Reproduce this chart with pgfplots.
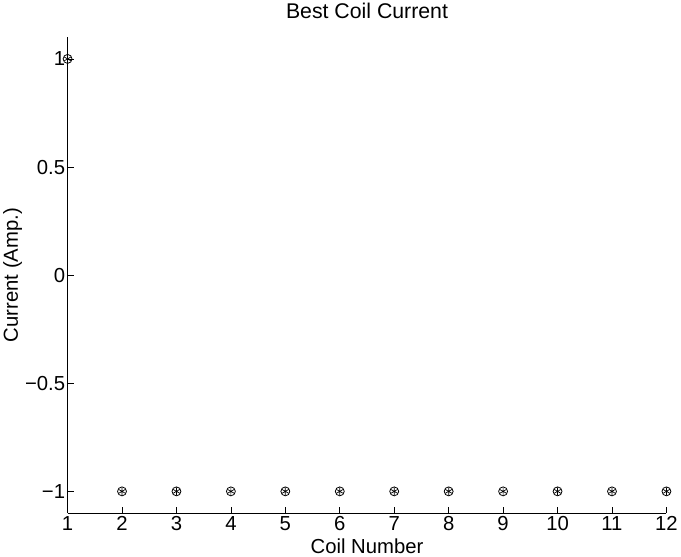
\documentclass[border=0pt]{standalone}
\usepackage{pgfplots}
\pgfplotsset{compat=1.18}
\usepackage{fontspec}
\setmainfont{Liberation Sans}
\begin{document}
\begin{tikzpicture}
\begin{axis}[
  scale only axis,
  width=603bp, height=479bp,
  xmin=1, xmax=12, ymin=-1.1, ymax=1.1,
  axis x line*=bottom, axis y line*=left,
  axis line style={black, line width=0.9pt},
  tick align=inside,
  tick style={black, line width=0.7pt},
  major tick length=6bp,
  xtick={1,...,12},
  ytick={-1,-0.5,0,0.5,1},
  yticklabels={−1,−0.5,0,0.5,1},
  /pgf/number format/assume math mode=true,
  ticklabel style={font=\fontsize{20.5}{22}\selectfont},
  xticklabel style={yshift=0bp},
  yticklabel style={xshift=1bp},
  label style={font=\fontsize{20.5}{22}\selectfont},
  title style={font=\fontsize{21.5}{23}\selectfont, yshift=9bp},
  title={Best Coil Current},
  xlabel={Coil Number},
  ylabel={Current (Amp.)},
  xlabel style={yshift=-1bp},
  ylabel style={yshift=-4bp},
  clip=false,
]
\addplot[only marks, mark=o, mark size=4.5bp, mark options={black, line width=0.8pt}] coordinates {
(1,1) (2,-1) (3,-1) (4,-1) (5,-1) (6,-1) (7,-1) (8,-1) (9,-1) (10,-1) (11,-1) (12,-1)};
\addplot[only marks, mark=asterisk, mark size=4bp, mark options={black, line width=0.7pt}] coordinates {
(1,1) (2,-1) (3,-1) (4,-1) (5,-1) (6,-1) (7,-1) (8,-1) (9,-1) (10,-1) (11,-1) (12,-1)};
\end{axis}
\end{tikzpicture}
\end{document}
